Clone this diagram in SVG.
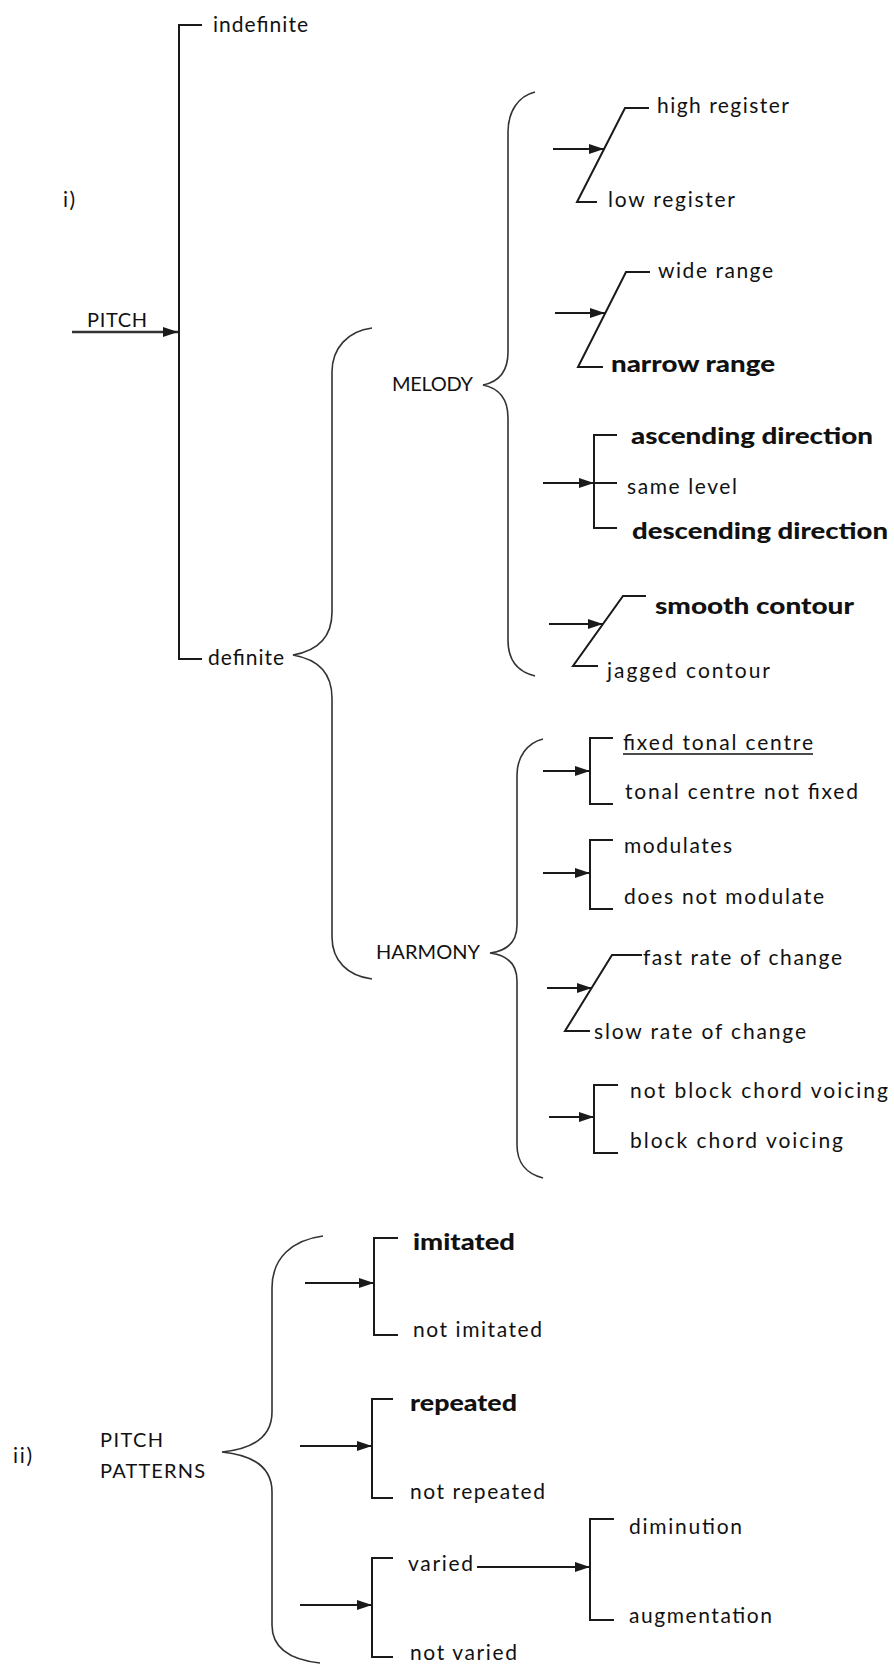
<svg xmlns="http://www.w3.org/2000/svg" width="894" height="1665" viewBox="0 0 894 1665">
<style>
.t{font-family:Lato,"Open Sans","Liberation Sans",sans-serif;font-size:21px;fill:#111}
.c{font-size:20px}
.b{font-weight:900;font-size:22px}
.ln{stroke:#1a1a1a;stroke-width:2;fill:none}
.br{stroke:#333;stroke-width:1.6;fill:none}
.ar{stroke:#1a1a1a;stroke-width:2;fill:none;marker-end:url(#ah)}
.ul{stroke:#111;stroke-width:1.3}
</style>
<defs>
<marker id="ah" markerUnits="userSpaceOnUse" markerWidth="16" markerHeight="12" refX="15" refY="5" orient="auto">
<path d="M0,0 L15,5 L0,10 z" fill="#1a1a1a"/>
</marker>
</defs>
<rect width="894" height="1665" fill="#fff"/>

<g id="connectors">
<!-- PITCH -->
<path class="ln" d="M202,25 L179,25 L179,659 L202,659"/>
<line class="ar" x1="72" y1="332" x2="178" y2="332" style="stroke-width:2.6;stroke:#333"/>
<!-- braces -->
<path class="br" d="M372,328 C348,331 332,348 332,372 L332,612 C332,638 316,651 293,655 C316,659 332,672 332,698 L332,937 C332,961 348,976 372,979"/>
<path class="br" d="M535,92 C518,96 508,112 508,132 L508,352 C508,372 498,382 483,385 C498,388 508,398 508,418 L508,640 C508,660 518,672 535,676"/>
<path class="br" d="M543,739 C527,743 517,757 517,775 L517,925 C517,943 506,951 490,953 C506,955 517,963 517,981 L517,1145 C517,1163 527,1174 543,1178"/>
<path class="br" d="M323,1236 C292,1240 272,1258 272,1288 L272,1412 C272,1438 252,1449 222,1452 C252,1455 272,1466 272,1492 L272,1625 C272,1650 292,1660 320,1663"/>
<!-- melody -->
<polyline class="ln" points="649,108 625,108 577,202 597,202"/>
<line class="ar" x1="553" y1="149" x2="604" y2="149"/>
<polyline class="ln" points="650,272 626,272 578,367 603,367"/>
<line class="ar" x1="555" y1="313" x2="605" y2="313"/>
<path class="ln" d="M617,435 L594,435 L594,528 L617,528 M594,483 L617,483"/>
<line class="ar" x1="543" y1="483" x2="594" y2="483"/>
<polyline class="ln" points="646,596 623,596 573,666 598,666"/>
<line class="ar" x1="549" y1="624" x2="603" y2="624"/>
<!-- harmony -->
<path class="ln" d="M613,738 L590,738 L590,804 L613,804"/>
<line class="ar" x1="543" y1="771" x2="590" y2="771"/>
<path class="ln" d="M613,840 L590,840 L590,909 L613,909"/>
<line class="ar" x1="543" y1="873" x2="590" y2="873"/>
<polyline class="ln" points="642,955 612,955 565,1031 590,1031"/>
<line class="ar" x1="547" y1="988" x2="592" y2="988"/>
<path class="ln" d="M618,1085 L594,1085 L594,1153 L618,1153"/>
<line class="ar" x1="549" y1="1117" x2="594" y2="1117"/>
<!-- pitch patterns -->
<path class="ln" d="M398,1238 L374,1238 L374,1335 L398,1335"/>
<line class="ar" x1="305" y1="1283" x2="374" y2="1283"/>
<path class="ln" d="M393,1399 L372,1399 L372,1498 L393,1498"/>
<line class="ar" x1="300" y1="1446" x2="372" y2="1446"/>
<path class="ln" d="M393,1558 L372,1558 L372,1657 L393,1657"/>
<line class="ar" x1="300" y1="1605" x2="372" y2="1605"/>
<path class="ln" d="M614,1519 L590,1519 L590,1620 L614,1620"/>
<line class="ar" x1="477" y1="1567" x2="590" y2="1567"/>
</g>

<g id="label-i"><text class="t" x="63" y="207" textLength="12">i)</text></g>
<g id="n-pitch"><text class="t c" x="87" y="327" textLength="60">PITCH</text></g>
<g id="n-indefinite"><text class="t" x="213" y="32" textLength="95">indefinite</text></g>
<g id="n-definite"><text class="t" x="208" y="665" textLength="76">definite</text></g>
<g id="n-melody"><text class="t c" x="392" y="391" textLength="81">MELODY</text></g>
<g id="n-harmony"><text class="t c" x="376" y="959" textLength="104">HARMONY</text></g>

<g id="n-register">
<text class="t" x="657" y="113" textLength="132">high register</text>
<text class="t" x="608" y="207" textLength="127">low register</text>
</g>
<g id="n-range">
<text class="t" x="658" y="278" textLength="115">wide range</text>
<text class="t b" x="611" y="372" textLength="164" lengthAdjust="spacingAndGlyphs">narrow range</text>
</g>
<g id="n-direction">
<text class="t b" x="631" y="444" textLength="242" lengthAdjust="spacingAndGlyphs">ascending direction</text>
<text class="t" x="627" y="494" textLength="110">same level</text>
<text class="t b" x="632" y="539" textLength="256" lengthAdjust="spacingAndGlyphs">descending direction</text>
</g>
<g id="n-contour">
<text class="t b" x="655" y="614" textLength="199" lengthAdjust="spacingAndGlyphs">smooth contour</text>
<text class="t" x="607" y="678" textLength="163">jagged contour</text>
</g>

<g id="n-tonal">
<text class="t" x="623" y="750" textLength="190">fixed tonal centre</text>
<line class="ul" x1="623" y1="754" x2="813" y2="754"/>
<text class="t" x="625" y="799" textLength="233">tonal centre not fixed</text>
</g>
<g id="n-modulation">
<text class="t" x="624" y="853" textLength="108">modulates</text>
<text class="t" x="624" y="904" textLength="200">does not modulate</text>
</g>
<g id="n-rate">
<text class="t" x="643" y="965" textLength="199">fast rate of change</text>
<text class="t" x="594" y="1039" textLength="212">slow rate of change</text>
</g>
<g id="n-voicing">
<text class="t" x="630" y="1098" textLength="258">not block chord voicing</text>
<text class="t" x="630" y="1148" textLength="213">block chord voicing</text>
</g>

<g id="label-ii"><text class="t" x="13" y="1463" textLength="19">ii)</text></g>
<g id="n-pitch-patterns">
<text class="t c" x="100" y="1447" textLength="63">PITCH</text>
<text class="t c" x="100" y="1478" textLength="105">PATTERNS</text>
</g>
<g id="n-imitated">
<text class="t b" x="413" y="1250" textLength="102" lengthAdjust="spacingAndGlyphs">imitated</text>
<text class="t" x="413" y="1337" textLength="129">not imitated</text>
</g>
<g id="n-repeated">
<text class="t b" x="410" y="1411" textLength="107" lengthAdjust="spacingAndGlyphs">repeated</text>
<text class="t" x="410" y="1499" textLength="135">not repeated</text>
</g>
<g id="n-varied">
<text class="t" x="408" y="1571" textLength="65">varied</text>
<text class="t" x="410" y="1660" textLength="107">not varied</text>
</g>
<g id="n-variation">
<text class="t" x="629" y="1534" textLength="113">diminution</text>
<text class="t" x="629" y="1623" textLength="143">augmentation</text>
</g>
</svg>
